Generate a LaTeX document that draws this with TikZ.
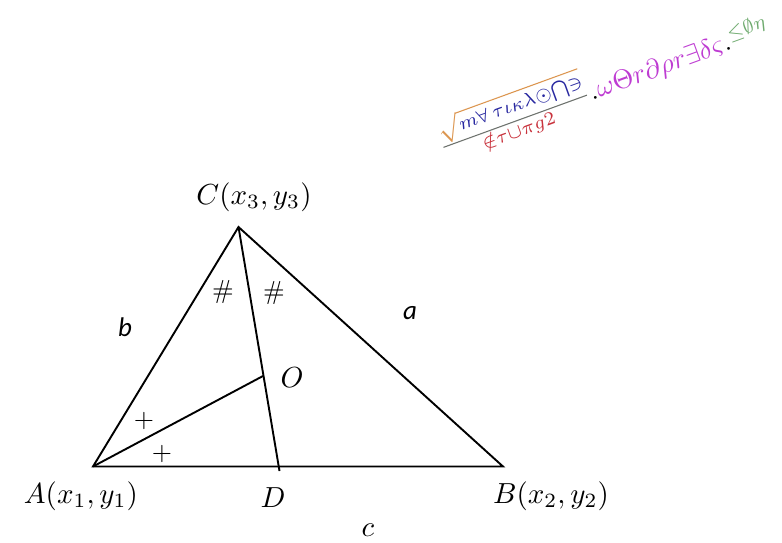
\documentclass[tikz,border=0pt]{standalone}
\usepackage{amsmath}
\usepackage{fontspec}
\newfontfamily\carlito{Carlito}
\definecolor{wmblue}{RGB}{40,40,160}
\definecolor{wmred}{RGB}{200,50,60}
\definecolor{wmmag}{RGB}{190,60,210}
\definecolor{wmgreen}{RGB}{110,170,110}
\definecolor{wmorange}{RGB}{220,150,80}
\definecolor{wmgray}{RGB}{110,115,110}
\begin{document}
\begin{tikzpicture}[x=1pt,y=-1pt,
  edge/.style={line width=1.9pt},
  ptlabel/.style={inner sep=0pt, transform shape, scale=2.9},
  sidelabel/.style={inner sep=0pt, font=\carlito\itshape\fontsize{27}{30}\selectfont},
  tickmark/.style={inner sep=0pt, transform shape, scale=2.6},
  wmark/.style={inner sep=1pt, transform shape, rotate=20, scale=2.7}]
\useasboundingbox (0,0) rectangle (782,542);
% vertices
\coordinate (A) at (93,466.5);
\coordinate (B) at (503,466.5);
\coordinate (C) at (238.5,227);
\coordinate (O) at (263,376);
\coordinate (D) at (279.5,471);
% triangle and cevians
\draw[edge, line join=miter] (A) -- (B) -- (C) -- cycle;
\draw[edge] (C) -- (D);
\draw[edge] (A) -- (O);
% labels
\node[ptlabel] (lC) at (254,197) {$C(x_3,y_3)$};
\node[ptlabel] (lA) at (81,496) {$A(x_1,y_1)$};
\node[ptlabel] (lB) at (551,496) {$B(x_2,y_2)$};
\node[ptlabel] (lD) at (273,498) {$D$};
\node[ptlabel] (lO) at (292,378) {$O$};
\node[ptlabel] (lc) at (368,530) {$c$};
\node[sidelabel] (la) at (410,313) {a};
\node[sidelabel] (lb) at (125,327) {b};
\node[tickmark] (h1) at (223,292) {$\#$};
\node[tickmark] (h2) at (274,293) {$\#$};
\node[tickmark] (p1) at (144,421) {$+$};
\node[tickmark] (p2) at (162,454) {$+$};
% watermark formula
\node[wmark] (wm) at (603,84) {$\color{wmgray}\frac{\color{wmorange}\sqrt{\color{wmblue}m\forall\,\tau\iota\kappa\lambda\odot\bigcap\ni}}{\color{wmred}\notin\tau\cup\pi g2}{\color{black}.}{\color{wmmag}\omega\Theta r\partial\rho r\exists\delta\varsigma}{\color{black}.}^{\color{wmgreen}\leq\emptyset\eta}$};
\end{tikzpicture}
\end{document}
